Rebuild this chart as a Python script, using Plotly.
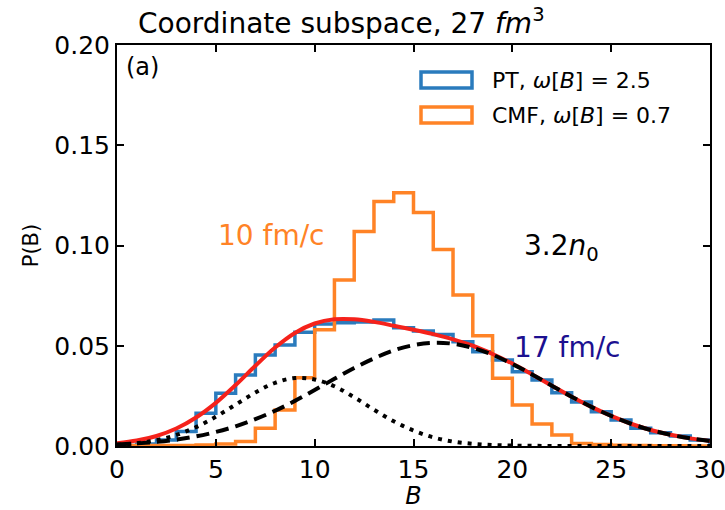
import plotly.graph_objects as go

# ---------------- data ----------------
bin_edges = list(range(0, 31))
pt_hist = [0.0003, 0.001, 0.003, 0.0072, 0.0163, 0.0263, 0.0354, 0.0454, 0.0504, 0.0567,
           0.0608, 0.0615, 0.0618, 0.0628, 0.0590, 0.0573, 0.0556, 0.0520, 0.0470, 0.0429,
           0.0370, 0.0329, 0.0266, 0.0220, 0.0171, 0.0130, 0.0088, 0.0066, 0.0050, 0.0030]
cmf_hist = [0.0002, 0.0002, 0.0002, 0.0003, 0.0005, 0.0010, 0.0022, 0.0088, 0.0180, 0.0340,
            0.0580, 0.0828, 0.1070, 0.1220, 0.1263, 0.1165, 0.0980, 0.0753, 0.0550, 0.0338,
            0.0204, 0.0110, 0.0055, 0.0013, 0.0008, 0.0004, 0.0002, 0.0001, 0.0001, 0.0]

curve_B = list(range(0, 31))
fit_total = [0.0014, 0.0027, 0.0050, 0.0087, 0.0142, 0.0215, 0.0304, 0.0400, 0.0491, 0.0564,
             0.0611, 0.0632, 0.0632, 0.0619, 0.0600, 0.0580, 0.0558, 0.0532, 0.0500, 0.0459,
             0.0411, 0.0357, 0.0301, 0.0246, 0.0195, 0.0150, 0.0111, 0.0080, 0.0056, 0.0038,
             0.0025]
fit_high = [0.0008, 0.0013, 0.0021, 0.0032, 0.0048, 0.0070, 0.0098, 0.0134, 0.0176, 0.0225,
            0.0279, 0.0335, 0.0389, 0.0437, 0.0477, 0.0503, 0.0515, 0.0510, 0.0489, 0.0455,
            0.0409, 0.0357, 0.0301, 0.0246, 0.0195, 0.0150, 0.0111, 0.0080, 0.0056, 0.0038,
            0.0025]
fit_low = [0.0006, 0.0014, 0.0029, 0.0055, 0.0094, 0.0146, 0.0206, 0.0267, 0.0315, 0.0339,
           0.0332, 0.0298, 0.0243, 0.0181, 0.0123, 0.0077, 0.0043, 0.0022, 0.0011, 0.0005,
           0.0002, 0.0001, 0.0, 0.0, 0.0, 0.0, 0.0, 0.0, 0.0, 0.0, 0.0]

x_ticks = [0, 5, 10, 15, 20, 25, 30]
y_ticks = [0.0, 0.05, 0.10, 0.15, 0.20]

FONT = "DejaVu Sans"


def step_xy(edges, vals):
    xs = [edges[0]] + edges[:-1] + [edges[-1], edges[-1]]
    ys = [0.0] + vals + [vals[-1], 0.0]
    return xs, ys


fig = go.Figure()

bx, by = step_xy(bin_edges, pt_hist)
fig.add_trace(go.Scatter(x=bx, y=by, mode="lines", line=dict(color="#2a7bbd", width=3.5, shape="hv"),
                         showlegend=False, hoverinfo="skip"))
ox, oy = step_xy(bin_edges, cmf_hist)
fig.add_trace(go.Scatter(x=ox, y=oy, mode="lines", line=dict(color="#ff8326", width=3.5, shape="hv"),
                         showlegend=False, hoverinfo="skip"))
fig.add_trace(go.Scatter(x=curve_B, y=fit_total, mode="lines",
                         line=dict(color="#f5221b", width=4, shape="spline"), showlegend=False))
fig.add_trace(go.Scatter(x=curve_B, y=fit_high, mode="lines",
                         line=dict(color="black", width=4, shape="spline", dash="13px,7px"), showlegend=False))
fig.add_trace(go.Scatter(x=curve_B, y=fit_low, mode="lines",
                         line=dict(color="black", width=4, shape="spline", dash="4px,6px"), showlegend=False))

# pixel helpers for paper coordinates (axes box 117..710 x 45..446)
L, R, T, Bt = 117, 710, 45, 446
def px(x):
    return (x - L) / (R - L)
def py(y):
    return (Bt - y) / (Bt - T)

# custom legend (outlined patches)
for (y0, y1, col) in [(72, 88, "#2a7bbd"), (107, 123, "#ff8326")]:
    fig.add_shape(type="rect", xref="paper", yref="paper", x0=px(421), x1=px(472), y0=py(y1), y1=py(y0),
                  line=dict(color=col, width=3.5), fillcolor="rgba(0,0,0,0)")

ann = []
ann.append(dict(text="PT, <i>ω</i>[<i>B</i>] = 2.5", x=px(490), y=py(80)))
ann.append(dict(text="CMF, <i>ω</i>[<i>B</i>] = 0.7", x=px(490), y=py(115)))
for a in ann:
    fig.add_annotation(xref="paper", yref="paper", x=a["x"], y=a["y"], text=a["text"], showarrow=False,
                       xanchor="left", yanchor="middle", font=dict(family=FONT, size=22, color="black"))

fig.add_annotation(xref="paper", yref="paper", x=px(136), y=py(22), text="Coordinate subspace, 27 <i>fm</i><sup>3</sup>",
                   showarrow=False, xanchor="left", yanchor="middle", font=dict(family=FONT, size=28, color="black"))
fig.add_annotation(xref="x", yref="y", x=0.35, y=0.189, text="(a)", showarrow=False, xanchor="left",
                   yanchor="middle", font=dict(family=FONT, size=24, color="black"))
fig.add_annotation(xref="x", yref="y", x=5.0, y=0.105, text="10 fm/c", showarrow=False, xanchor="left",
                   yanchor="middle", font=dict(family=FONT, size=28, color="#ff8326"))
fig.add_annotation(xref="x", yref="y", x=20.5, y=0.099, text="3.2<i>n</i><sub>0</sub>", showarrow=False,
                   xanchor="left", yanchor="middle", font=dict(family=FONT, size=28, color="black"))
fig.add_annotation(xref="x", yref="y", x=20.0, y=0.049, text="17 fm/c", showarrow=False, xanchor="left",
                   yanchor="middle", font=dict(family=FONT, size=28, color="#1c1090"))

fig.update_layout(
    width=725, height=510,
    margin=dict(l=L, r=725 - R, t=T, b=510 - Bt),
    paper_bgcolor="white", plot_bgcolor="white",
    font=dict(family=FONT, size=25, color="black"),
    showlegend=False,
)
fig.update_xaxes(range=[0, 30.0001], tickvals=x_ticks, ticktext=[str(v) for v in x_ticks], automargin=False,
                 ticklabeloverflow="allow",
                 showgrid=False, zeroline=False, showline=True, linecolor="black", linewidth=2,
                 mirror="ticks", ticks="inside", ticklen=7, tickwidth=1.5, tickcolor="black",
                 tickfont=dict(family=FONT, size=25), title=dict(text="<i>B</i>", font=dict(family=FONT, size=24), standoff=4))
fig.update_yaxes(range=[0, 0.2], tickvals=y_ticks, ticktext=["%.2f" % v for v in y_ticks], automargin=False,
                 ticklabeloverflow="allow",
                 showgrid=False, zeroline=False, showline=True, linecolor="black", linewidth=2,
                 mirror="ticks", ticks="inside", ticklen=7, tickwidth=1.5, tickcolor="black",
                 tickfont=dict(family=FONT, size=25), title=dict(text="P(B)", font=dict(family=FONT, size=21), standoff=10))

fig.write_html("out.html")
